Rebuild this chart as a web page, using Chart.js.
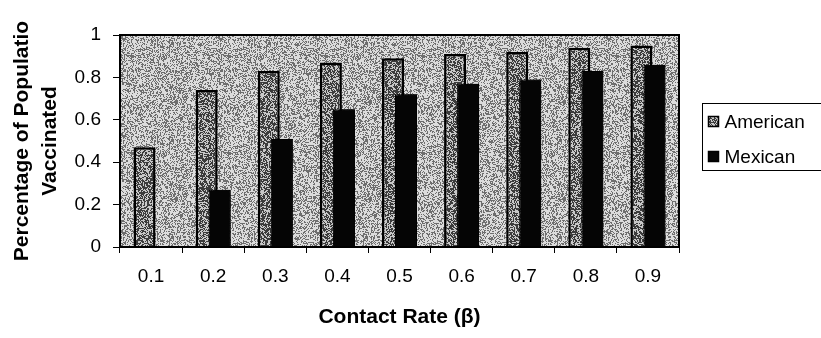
<!DOCTYPE html>
<html>
<head>
<meta charset="utf-8">
<script src="https://cdn.jsdelivr.net/npm/chart.js@4.4.1/dist/chart.umd.min.js"></script>
<style>
  html, body { margin: 0; padding: 0; background: #ffffff; }
  #wrap { width: 821px; height: 338px; position: relative; }
</style>
</head>
<body>
<div id="wrap"><canvas id="c" width="821" height="338"></canvas></div>
<script>
const categories = ['0.1', '0.2', '0.3', '0.4', '0.5', '0.6', '0.7', '0.8', '0.9'];
const americanValues = [0.47, 0.74, 0.83, 0.87, 0.89, 0.91, 0.92, 0.94, 0.95];
const mexicanValues = [null, 0.27, 0.51, 0.65, 0.72, 0.77, 0.79, 0.83, 0.86];
const yTickValues = [0, 0.2, 0.4, 0.6, 0.8, 1];
const seriesNames = ['American', 'Mexican'];
const xTitle = 'Contact Rate (β)';
const yTitle = ['Percentage of Populatio', 'Vaccinated'];

// deterministic stipple texture (styling only)
function hash(x, y, seed) {
  let h = (x * 374761393 + y * 668265263 + seed * 2246822519) | 0;
  h = Math.imul(h ^ (h >>> 13), 1274126177);
  h ^= h >>> 16;
  return (h >>> 0) / 4294967296;
}
function makeStipple(lightShare, dark, light, seed) {
  const size = 97;
  const cv = document.createElement('canvas');
  cv.width = size; cv.height = size;
  const cx = cv.getContext('2d');
  const img = cx.createImageData(size, size);
  for (let y = 0; y < size; y++) {
    for (let x = 0; x < size; x++) {
      const i = y * size + x;
      const v = hash(x, y, seed) < lightShare ? light : dark;
      img.data[i * 4] = v; img.data[i * 4 + 1] = v; img.data[i * 4 + 2] = v; img.data[i * 4 + 3] = 255;
    }
  }
  cx.putImageData(img, 0, 0);
  return cx.createPattern(cv, 'repeat');
}
const bgPattern = makeStipple(0.6, 110, 220, 7);
const amPattern = makeStipple(0.45, 60, 200, 13);

const FONT = "'Liberation Sans', Arial, sans-serif";

const plotDecor = {
  id: 'plotDecor',
  beforeDatasetsDraw(chart) {
    const { ctx, chartArea: a } = chart;
    ctx.save();
    ctx.fillStyle = bgPattern;
    ctx.fillRect(a.left, a.top, a.right - a.left, a.bottom - a.top);
    ctx.restore();
  },
  afterDatasetsDraw(chart) {
    const { ctx, chartArea: a } = chart;
    // second series sits in front of the first (overlapping bars)
    const meta = chart.getDatasetMeta(1);
    if (meta && meta.controller) meta.controller.draw();
    ctx.save();
    ctx.strokeStyle = '#000';
    ctx.lineWidth = 2;
    ctx.strokeRect(a.left, a.top, a.right - a.left, a.bottom - a.top);
    ctx.restore();
  },
  afterDraw(chart) {
    const { ctx, chartArea: a } = chart;
    const lx = a.right + 23.5, ly = 103.5, lw = 140, lh = 67;
    ctx.save();
    ctx.strokeStyle = '#000';
    ctx.lineWidth = 1;
    ctx.strokeRect(lx, ly, lw, lh);
    ctx.font = '19px ' + FONT;
    ctx.textBaseline = 'middle';
    chart.data.datasets.forEach((ds, i) => {
      const cy = ly + 18 + i * 35;
      ctx.fillStyle = ds.backgroundColor;
      ctx.fillRect(lx + 6, cy - 5, 10, 10);
      ctx.strokeStyle = '#000';
      ctx.lineWidth = 1.5;
      ctx.strokeRect(lx + 6, cy - 5, 10, 10);
      ctx.fillStyle = '#000';
      ctx.fillText(ds.label, lx + 22, cy + 1);
    });
    ctx.restore();
  }
};

new Chart(document.getElementById('c'), {
  type: 'bar',
  data: {
    labels: categories,
    datasets: [
      {
        label: seriesNames[0],
        data: americanValues,
        backgroundColor: amPattern,
        borderColor: '#000',
        borderWidth: 2.5,
        borderSkipped: 'bottom',
        categoryPercentage: 0.42,
        barPercentage: 1.69
      },
      {
        label: seriesNames[1],
        data: mexicanValues,
        backgroundColor: '#050505',
        borderColor: '#000',
        borderWidth: 1,
        borderSkipped: 'bottom',
        categoryPercentage: 0.42,
        barPercentage: 1.69
      }
    ]
  },
  plugins: [plotDecor],
  options: {
    responsive: false,
    animation: false,
    layout: { padding: { left: 0, right: 142, top: 35, bottom: 8 } },
    plugins: {
      legend: { display: false },
      tooltip: { enabled: false }
    },
    scales: {
      x: {
        offset: true,
        grid: { display: true, offset: true, drawOnChartArea: false, drawTicks: true, tickLength: 6, color: '#000', lineWidth: 1 },
        border: { display: true, color: '#000', width: 1.5 },
        ticks: { color: '#000', font: { family: FONT, size: 19 }, padding: 12, maxRotation: 0 },
        title: { display: true, text: xTitle, color: '#000', font: { family: FONT, size: 21, weight: 'bold' }, padding: { top: 5, bottom: 0 } }
      },
      y: {
        min: 0,
        max: 1,
        afterBuildTicks(scale) { scale.ticks = yTickValues.map(v => ({ value: v })); },
        afterFit(scale) { scale.width = 120; },
        grid: { display: true, drawOnChartArea: false, drawTicks: true, tickLength: 7, color: '#000', lineWidth: 1 },
        border: { display: true, color: '#000', width: 1.5 },
        ticks: { color: '#000', font: { family: FONT, size: 19 }, padding: 12, callback: v => String(v) },
        title: { display: true, text: yTitle, color: '#000', font: { family: FONT, size: 21, weight: 'bold', lineHeight: 1.3 }, padding: { top: 9, bottom: 4 } }
      }
    }
  }
});
</script>
</body>
</html>
